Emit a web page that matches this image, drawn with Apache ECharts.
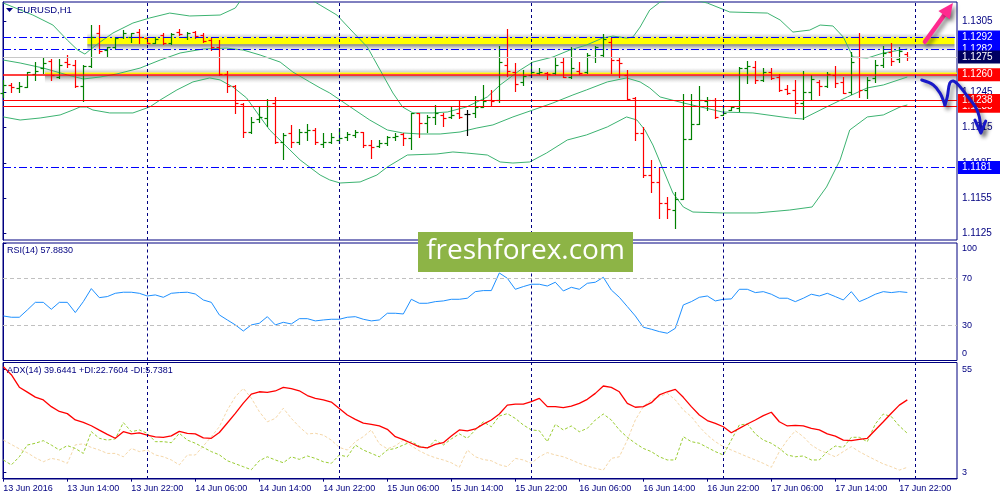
<!DOCTYPE html>
<html><head><meta charset="utf-8">
<script src="https://cdn.jsdelivr.net/npm/echarts@6/dist/echarts.min.js"></script>
<style>html,body{margin:0;padding:0;background:#fff}#c{width:1000px;height:500px}</style>
</head><body><div id="c"></div>
<script>
// ---------------- DATA ----------------
const symbolTitle = 'EURUSD,H1';
const rsiTitle = 'RSI(14) 57.8830';
const adxTitle = 'ADX(14) 39.6441 +DI:22.7604 -DI:5.7381';
const watermarkText = 'freshforex.com';

// hourly bars, 13 Jun 2016 06:00 ... 17 Jun 2016 23:00 (index = bar number)
const barOpen = [1.12441,1.12512,1.12489,1.12498,1.12606,1.12654,1.12719,1.12577,1.12708,1.12682,1.12504,1.12674,1.12957,1.12810,1.12838,1.12918,1.12923,1.12960,1.12909,1.12872,1.12937,1.12872,1.12966,1.12918,1.12966,1.12937,1.12895,1.12838,1.12606,1.12504,1.12351,1.12115,1.12220,1.12229,1.12356,1.12030,1.12101,1.12030,1.12115,1.12129,1.12010,1.12030,1.12044,1.12073,1.12087,1.12115,1.12002,1.11993,1.12016,1.12067,1.12095,1.12058,1.12271,1.12186,1.12237,1.12257,1.12237,1.12271,1.12263,1.12271,1.12328,1.12385,1.12385,1.12682,1.12626,1.12540,1.12597,1.12611,1.12617,1.12611,1.12711,1.12583,1.12634,1.12626,1.12747,1.12767,1.12881,1.12725,1.12597,1.12399,1.12107,1.11747,1.11690,1.11511,1.11449,1.11540,1.12050,1.12180,1.12379,1.12385,1.12257,1.12299,1.12314,1.12654,1.12668,1.12555,1.12626,1.12577,1.12475,1.12470,1.12362,1.12450,1.12540,1.12504,1.12597,1.12540,1.12455,1.12747,1.12470,1.12569,1.12682,1.12796,1.12730,1.12776];
const barHigh = [1.12555,1.12526,1.12540,1.12626,1.12711,1.12739,1.12730,1.12730,1.12767,1.12725,1.12682,1.13022,1.13022,1.12838,1.12918,1.12980,1.12957,1.12986,1.12918,1.12918,1.12952,1.12952,1.12986,1.12966,1.12971,1.12952,1.12909,1.12895,1.12634,1.12512,1.12356,1.12243,1.12328,1.12390,1.12407,1.12101,1.12172,1.12135,1.12180,1.12149,1.12107,1.12101,1.12144,1.12115,1.12129,1.12115,1.12044,1.12044,1.12081,1.12101,1.12101,1.12277,1.12277,1.12257,1.12342,1.12271,1.12328,1.12385,1.12299,1.12419,1.12512,1.12470,1.12844,1.12986,1.12696,1.12640,1.12711,1.12654,1.12626,1.12747,1.12739,1.12838,1.12711,1.12781,1.12844,1.12946,1.12909,1.12739,1.12640,1.12407,1.12158,1.11874,1.11818,1.11562,1.11605,1.12436,1.12433,1.12504,1.12413,1.12399,1.12334,1.12334,1.12668,1.12716,1.12716,1.12654,1.12654,1.12606,1.12512,1.12555,1.12631,1.12597,1.12555,1.12626,1.12674,1.12577,1.12796,1.12952,1.12577,1.12725,1.12844,1.12872,1.12838,1.12796];
const barLow = [1.12413,1.12455,1.12455,1.12492,1.12555,1.12611,1.12555,1.12569,1.12668,1.12492,1.12379,1.12668,1.12787,1.12759,1.12824,1.12909,1.12881,1.12866,1.12866,1.12866,1.12858,1.12858,1.12937,1.12901,1.12909,1.12881,1.12810,1.12597,1.12455,1.12271,1.12073,1.12101,1.12200,1.12163,1.12022,1.11880,1.11988,1.12010,1.12044,1.12007,1.11988,1.12022,1.12022,1.12044,1.12067,1.11988,1.11888,1.11982,1.12002,1.12044,1.12002,1.11965,1.12073,1.12115,1.12180,1.12163,1.12229,1.12229,1.12087,1.12237,1.12328,1.12334,1.12370,1.12589,1.12464,1.12512,1.12583,1.12606,1.12560,1.12606,1.12577,1.12569,1.12606,1.12617,1.12711,1.12747,1.12611,1.12577,1.12390,1.12044,1.11732,1.11605,1.11378,1.11378,1.11293,1.11540,1.12050,1.12180,1.12299,1.12229,1.12257,1.12299,1.12294,1.12526,1.12532,1.12549,1.12560,1.12464,1.12436,1.12277,1.12220,1.12390,1.12427,1.12492,1.12492,1.12441,1.12436,1.12407,1.12399,1.12540,1.12668,1.12682,1.12711,1.12725];
const barClose = [1.12512,1.12492,1.12504,1.12620,1.12631,1.12696,1.12597,1.12682,1.12688,1.12504,1.12674,1.12923,1.12804,1.12832,1.12909,1.12952,1.12952,1.12918,1.12872,1.12901,1.12866,1.12946,1.12946,1.12957,1.12929,1.12889,1.12838,1.12606,1.12504,1.12356,1.12115,1.12200,1.12237,1.12334,1.12030,1.12087,1.12030,1.12115,1.12129,1.12030,1.12030,1.12067,1.12064,1.12095,1.12115,1.12002,1.11988,1.12016,1.12067,1.12078,1.12058,1.12271,1.12186,1.12243,1.12271,1.12229,1.12257,1.12243,1.12263,1.12328,1.12379,1.12379,1.12711,1.12634,1.12521,1.12589,1.12626,1.12620,1.12606,1.12682,1.12583,1.12654,1.12617,1.12767,1.12832,1.12901,1.12725,1.12696,1.12390,1.12107,1.11747,1.11690,1.11511,1.11455,1.11540,1.12050,1.12180,1.12385,1.12385,1.12243,1.12277,1.12322,1.12654,1.12674,1.12555,1.12626,1.12569,1.12470,1.12447,1.12362,1.12450,1.12560,1.12504,1.12606,1.12526,1.12447,1.12711,1.12470,1.12555,1.12682,1.12781,1.12719,1.12804,1.12753];

// Bollinger bands read as [bar, price]
const bbUpper = [[0,1.13209],[3.7,1.13107],[6.2,1.13022],[8,1.12894],[9.3,1.12809],[10.2,1.12775],[10.8,1.12809],[12.1,1.12877],[13.7,1.12954],[16.2,1.13039],[18.3,1.13082],[20.8,1.13124],[23.3,1.13099],[27.1,1.13107],[29,1.13167],[29.6,1.13226],[32.1,1.13294],[36.2,1.13328],[39.6,1.13192],[41.7,1.13107],[43.7,1.12962],[45.5,1.12835],[47.1,1.12639],[48.7,1.12444],[49.9,1.12325],[51.2,1.12274],[53.7,1.12274],[55.5,1.12282],[57.9,1.12325],[60.5,1.12410],[62.1,1.12512],[64.6,1.12639],[66.2,1.12707],[68.7,1.12750],[70.8,1.12809],[72.9,1.12852],[74.9,1.12911],[76.2,1.12928],[77.9,1.12911],[78.7,1.12920],[79.6,1.13005],[80.8,1.13150],[82.1,1.13218],[85,1.13260],[88,1.13209],[90.8,1.13133],[95.5,1.13124],[97.1,1.13065],[98.7,1.12962],[100.8,1.12979],[102.1,1.13022],[103.7,1.13014],[105,1.12920],[106.2,1.12750],[108,1.12741],[110,1.12784],[112.1,1.12809],[113,1.12818]];
const bbMiddle = [[0,1.12724],[2.1,1.12699],[5,1.12656],[8,1.12597],[10,1.12563],[12.1,1.12580],[14.2,1.12606],[17.1,1.12656],[19.6,1.12724],[22.1,1.12784],[25,1.12818],[27.9,1.12826],[30,1.12809],[32.1,1.12767],[34.6,1.12707],[36.2,1.12622],[38.3,1.12538],[39.6,1.12487],[40.8,1.12444],[42.1,1.12384],[45.8,1.12214],[48,1.12129],[49.9,1.12104],[52.1,1.12095],[54.6,1.12095],[57.1,1.12112],[59.2,1.12146],[61.2,1.12172],[63.7,1.12240],[66.2,1.12299],[68.7,1.12359],[71.2,1.12427],[72.9,1.12470],[75.5,1.12538],[77.9,1.12572],[79.6,1.12538],[80.8,1.12487],[82.1,1.12410],[85,1.12359],[89.9,1.12282],[93.7,1.12274],[98.3,1.12231],[99.9,1.12223],[102.9,1.12325],[105.5,1.12410],[108,1.12487],[110,1.12512],[113,1.12580]];
const bbLower = [[0,1.12240],[2.1,1.12214],[4.6,1.12231],[7.1,1.12257],[8.7,1.12299],[9.6,1.12325],[10.4,1.12325],[11.2,1.12299],[13.3,1.12274],[16.2,1.12274],[18.3,1.12325],[19.6,1.12384],[21.7,1.12470],[23.7,1.12538],[25.8,1.12572],[27.1,1.12555],[28.7,1.12495],[30.4,1.12402],[32.1,1.12240],[33.3,1.12129],[37.1,1.11874],[39.6,1.11746],[40.8,1.11704],[42.1,1.11678],[44.6,1.11687],[46.7,1.11746],[48,1.11814],[50.5,1.11916],[54.2,1.11925],[56.2,1.11942],[57.9,1.11933],[60.5,1.11916],[62.1,1.11857],[63.7,1.11848],[65.8,1.11857],[67.9,1.11933],[70.5,1.12044],[72.9,1.12087],[75.5,1.12155],[77.9,1.12240],[79.2,1.12214],[80.2,1.12129],[81.2,1.12001],[82.5,1.11789],[83.7,1.11593],[85,1.11474],[86.2,1.11431],[89.9,1.11423],[94.2,1.11423],[98.3,1.11448],[101.1,1.11474],[102.9,1.11644],[104.6,1.11874],[105.8,1.12129],[108,1.12240],[110,1.12257],[112.1,1.12325],[113,1.12342]];

const rsi14 = [37.9,36.8,36.8,43.0,49.5,49.5,43.6,49.5,49.5,40.8,50.1,61.2,53.5,54.4,57.2,58.1,58.1,57.2,54.9,55.8,53.8,57.2,57.8,58.1,56.6,51.5,49.5,38.8,34.5,30.3,25.1,30.3,31.7,37.3,30.3,32.5,31.1,35.6,35.6,33.7,34.5,35.1,35.1,36.8,37.3,35.1,33.7,34.5,40.2,40.2,39.6,52.1,48.7,48.7,50.1,50.7,52.1,52.1,53.0,58.6,59.5,59.5,74.5,70.0,60.6,62.9,64.9,64.9,63.4,66.6,59.2,62.3,60.6,65.7,66.6,70.8,60.0,53.8,45.9,37.9,28.3,26.6,24.6,23.2,27.4,47.3,50.1,53.8,54.9,50.7,52.1,52.4,60.6,60.6,57.8,58.6,56.4,53.0,53.0,50.1,53.0,56.4,54.9,57.2,54.4,51.5,58.6,50.1,53.0,56.4,58.6,57.8,58.6,57.9];
const adx14 = [56.3,52.3,46.0,43.5,41.0,39.6,36.2,33.8,32.7,29.5,28.3,26.6,24.4,22.3,20.3,23.6,22.5,23.0,21.9,21.0,20.8,21.5,23.8,22.8,22.5,20.5,20.3,23.2,28.0,32.8,38.0,42.5,43.7,43.4,44.1,45.9,45.3,44.2,41.8,40.4,39.6,38.5,35.3,32.0,29.8,27.9,27.3,26.5,24.8,21.1,19.6,17.8,16.0,15.5,17.2,18.1,21.5,24.5,24.0,25.0,27.4,29.5,32.5,37.0,37.5,37.5,38.7,40.4,36.2,36.2,35.7,36.5,37.9,39.9,42.9,46.6,45.9,43.7,37.9,35.9,36.2,38.2,42.1,43.7,44.9,40.9,36.2,32.0,29.2,27.8,26.1,23.1,25.3,27.5,29.5,31.7,33.4,28.6,26.5,26.8,26.5,25.3,24.5,22.5,21.4,19.4,19.1,19.8,20.3,24.5,28.6,32.9,37.0,39.6];
const plusDI = [9.4,6.9,11.0,16.9,17.8,19.1,16.9,14.4,16.6,15.2,12.7,23.6,20.3,19.4,20.0,28.2,23.6,24.5,22.8,18.6,18.6,18.1,22.8,19.4,17.8,15.7,13.6,12.0,9.0,7.5,6.0,4.5,9.0,11.0,9.4,8.0,11.0,9.7,11.4,10.2,8.5,7.7,11.9,11.0,16.9,14.4,12.7,11.0,14.4,15.2,16.9,18.6,16.4,15.2,19.4,16.9,20.0,22.5,20.3,24.5,28.6,26.1,31.5,32.7,30.3,27.0,24.5,24.1,18.6,27.3,24.5,26.5,23.6,25.3,29.5,32.5,29.5,24.5,20.8,17.8,15.2,13.6,11.0,9.4,9.4,21.1,18.6,17.8,15.7,13.6,11.9,19.4,27.0,27.5,22.5,19.4,17.8,15.2,11.9,11.0,11.4,9.4,9.4,13.6,16.4,15.7,20.8,20.8,18.6,27.5,32.5,31.2,26.5,22.8];
const minusDI = [19.4,17.2,15.0,13.0,10.5,8.5,10.2,9.4,7.7,17.0,17.5,15.7,14.4,12.7,12.7,11.0,15.2,13.6,14.4,11.9,11.0,9.4,6.9,11.9,11.9,16.4,21.1,26.1,34.5,41.2,45.4,40.5,33.7,28.6,30.3,35.4,30.3,26.1,22.5,22.8,21.9,19.4,15.7,14.4,18.6,21.1,24.5,17.5,15.0,16.5,19.4,16.5,14.0,12.0,10.5,9.4,8.0,5.7,14.4,11.0,9.6,9.0,7.0,6.0,10.2,9.4,7.7,11.0,13.1,11.9,11.0,9.4,7.7,6.3,5.2,4.3,10.2,11.0,19.4,29.5,36.2,39.6,41.2,42.9,39.6,34.5,31.2,26.1,21.9,18.6,16.1,14.4,12.7,11.0,9.4,7.7,5.7,13.6,19.4,24.1,21.1,16.9,14.4,12.7,11.0,13.6,16.1,13.6,11.4,9.4,7.4,6.0,4.3,5.7];

const xTickBars = [0,8,16,24,32,40,48,56,64,72,80,88,96,104,112];
const xTickLabels = ['13 Jun 2016','13 Jun 14:00','13 Jun 22:00','14 Jun 06:00','14 Jun 14:00','14 Jun 22:00','15 Jun 06:00','15 Jun 14:00','15 Jun 22:00','16 Jun 06:00','16 Jun 14:00','16 Jun 22:00','17 Jun 06:00','17 Jun 14:00','17 Jun 22:00'];
const daySeparators = [18,42,66,90,114];
const priceTicks = [1.1125,1.1155,1.1185,1.1215,1.1245,1.1275,1.1305];
const rsiTicks = [0,30,70,100];
const rsiLevels = [70,30];
const adxTicks = [3,55];
const levelPrices = [1.1292,1.1282,1.1275,1.1260,1.1233,1.1238,1.1181];
const yellowBand = [1.12918,1.12858];        // rectangle object (price top/bottom)
const yellowBandStartBar = 10.5;
const channelLine = [1.12618,1.12606];       // thin yellow rectangle above 1.1260
const channelStartBar = 5.2;

// hand-drawn annotations (data coordinates: bar, price)
const pinkArrowTail = [115.2,1.12880];
const pinkArrowTip = [118.7,1.13209];
const bluePathA = [[114.8,1.12554],[116.25,1.12512],[117.1,1.12441],[117.7,1.12341]];
const bluePathB = [[117.7,1.12341],[118.0,1.12412],[118.3,1.12526],[118.75,1.12546],[119.4,1.12512],[120.4,1.12427],[121.5,1.12327],[122.0,1.12242],[122.2,1.12112]];
const blueHead = [[121.45,1.12214],[122.2,1.12103],[122.8,1.12205]];

// ---------------- CHART ----------------
const FONT = "'Liberation Sans', Arial, sans-serif";
const NAVY = '#000080';
const XMIN = -0.04, XMAX = -0.04 + 954/8;
const PMAX = 1.13218, PMIN = 1.11193;

const ohlc = barOpen.map((o,i)=>[i,o,barHigh[i],barLow[i],barClose[i]]);
const idx = a => a.map((v,i)=>[i,v]);

function sepLines(){
  return daySeparators.map(v=>({xAxis:v, lineStyle:{color:NAVY,type:[3,3],width:1}, label:{show:false}}));
}
const levelStyle = {
  '1.1292':{c:'#0000ff', box:'#0000ff', type:[8,3,2,3], w:1},
  '1.1282':{c:'#0000ff', box:'#0000ff', type:[8,3,2,3], w:1},
  '1.1275':{c:'#c8c8c8', box:'#000060', type:'solid', w:1},
  '1.1260':{c:'#ff0000', box:'#ff0000', type:'solid', w:1.5},
  '1.1238':{c:'#ff0000', box:'#ff0000', type:'solid', w:1},
  '1.1233':{c:'#ff0000', box:'#ff0000', type:'solid', w:1},
  '1.1181':{c:'#0000ff', box:'#0000ff', type:[8,3,2,3], w:1}
};
const levelLines = levelPrices.map(v=>{
  const s = levelStyle[v.toFixed(4)];
  return {yAxis:v, lineStyle:{color:s.c,type:s.type,width:s.w},
    label:{show:true, position:'end', distance:1, formatter:()=>v.toFixed(4),
      color:'#fff', backgroundColor:s.box, padding:[1,10,0,4], fontSize:10, lineHeight:12, fontFamily:FONT}};
});

const grad = (stops)=>({type:'linear',x:0,y:0,x2:0,y2:1,colorStops:stops});

const option = {
  animation:false,
  backgroundColor:'#ffffff',
  textStyle:{fontFamily:FONT},
  title:[
    {text:symbolTitle,left:17,top:5,padding:0,textStyle:{fontSize:9.5,color:NAVY,fontWeight:'normal',fontFamily:FONT}},
    {text:rsiTitle,left:7,top:246,padding:0,textStyle:{fontSize:9,color:NAVY,fontWeight:'normal',fontFamily:FONT}},
    {text:adxTitle,left:7,top:366,padding:0,textStyle:{fontSize:9,color:NAVY,fontWeight:'normal',fontFamily:FONT}}
  ],
  grid:[
    {left:3,top:2,width:954,height:238,show:true,borderColor:NAVY,borderWidth:1},
    {left:3,top:243,width:954,height:117.5,show:true,borderColor:NAVY,borderWidth:1},
    {left:3,top:362.5,width:954,height:116.5,show:true,borderColor:NAVY,borderWidth:1}
  ],
  xAxis:[
    {gridIndex:0,type:'value',min:XMIN,max:XMAX,show:false},
    {gridIndex:1,type:'value',min:XMIN,max:XMAX,show:false},
    {gridIndex:2,type:'value',min:XMIN,max:XMAX,
      axisLine:{lineStyle:{color:NAVY}},
      axisTick:{show:true,length:3,customValues:xTickBars,lineStyle:{color:NAVY}},
      axisLabel:{customValues:xTickBars,align:'left',margin:5,color:NAVY,fontSize:9,fontFamily:FONT,
        formatter:v=>{const i=xTickBars.indexOf(Math.round(v));return i>=0?xTickLabels[i]:'';}},
      splitLine:{show:false}}
  ],
  yAxis:[
    {gridIndex:0,type:'value',position:'right',min:PMIN,max:PMAX,
      axisLine:{show:true,lineStyle:{color:NAVY}},
      axisTick:{show:true,length:3,customValues:priceTicks,lineStyle:{color:NAVY}},
      axisLabel:{customValues:priceTicks,margin:5,color:NAVY,fontSize:10,fontFamily:FONT,formatter:v=>v.toFixed(4)},
      splitLine:{show:false}},
    {gridIndex:1,type:'value',position:'right',min:0,max:100,
      axisLine:{show:true,lineStyle:{color:NAVY}},
      axisTick:{show:true,length:3,customValues:rsiTicks,lineStyle:{color:NAVY}},
      axisLabel:{customValues:rsiTicks,margin:5,color:NAVY,fontSize:9,fontFamily:FONT,
        formatter:v=>v===100?'{top|100}':(v===0?'{bot|0}':String(v)),
        rich:{top:{padding:[12,0,0,0],color:NAVY,fontSize:9,fontFamily:FONT},bot:{padding:[0,0,14,0],color:NAVY,fontSize:9,fontFamily:FONT}}},
      splitLine:{show:false}},
    {gridIndex:2,type:'value',position:'right',min:-0.18,max:58.42,
      axisLine:{show:true,lineStyle:{color:NAVY}},
      axisTick:{show:true,length:3,customValues:adxTicks,lineStyle:{color:NAVY}},
      axisLabel:{customValues:adxTicks,margin:5,color:NAVY,fontSize:9,fontFamily:FONT},
      splitLine:{show:false}}
  ],
  series:[
    {name:'BB middle',type:'line',xAxisIndex:0,yAxisIndex:0,data:bbMiddle,symbol:'none',
      lineStyle:{color:'#3cb371',width:1},z:2,
      markArea:{silent:true,data:[
        [{xAxis:yellowBandStartBar,yAxis:yellowBand[0]+0.00035,itemStyle:{color:grad([{offset:0,color:'rgba(160,160,160,0)'},{offset:1,color:'rgba(150,150,150,0.45)'}])}},{xAxis:118.9,yAxis:yellowBand[0]}],
        [{xAxis:yellowBandStartBar,yAxis:yellowBand[0],itemStyle:{color:'#ffff00'}},{xAxis:118.9,yAxis:yellowBand[1]}],
        [{xAxis:yellowBandStartBar,yAxis:yellowBand[1],itemStyle:{color:grad([{offset:0,color:'rgba(90,90,90,0.8)'},{offset:1,color:'rgba(200,200,200,0)'}])}},{xAxis:118.9,yAxis:yellowBand[1]-0.0006}],
        [{xAxis:channelStartBar,yAxis:channelLine[0]+0.0004,itemStyle:{color:grad([{offset:0,color:'rgba(180,180,180,0)'},{offset:1,color:'rgba(150,150,150,0.5)'}])}},{xAxis:XMAX,yAxis:channelLine[0]}],
        [{xAxis:channelStartBar,yAxis:channelLine[0],itemStyle:{color:'#ffee00'}},{xAxis:XMAX,yAxis:channelLine[1]}],
        [{xAxis:channelStartBar,yAxis:1.12592,itemStyle:{color:grad([{offset:0,color:'rgba(100,100,100,0.7)'},{offset:1,color:'rgba(210,210,210,0)'}])}},{xAxis:XMAX,yAxis:1.12525}]
      ]},
      markLine:{silent:true,precision:6,symbol:['none','none'],data:levelLines.concat(sepLines())}},
    {name:'BB upper',type:'line',xAxisIndex:0,yAxisIndex:0,data:bbUpper,symbol:'none',lineStyle:{color:'#3cb371',width:1},z:2},
    {name:'BB lower',type:'line',xAxisIndex:0,yAxisIndex:0,data:bbLower,symbol:'none',lineStyle:{color:'#3cb371',width:1},z:2},
    {name:'EURUSD',type:'custom',xAxisIndex:0,yAxisIndex:0,data:ohlc,z:3,
      encode:{x:0,y:[1,2,3,4]},
      renderItem:function(params,api){
        const k=api.value(0),o=api.value(1),h=api.value(2),l=api.value(3),c=api.value(4);
        const pH=api.coord([k,h]),pL=api.coord([k,l]),pO=api.coord([k,o]),pC=api.coord([k,c]);
        const col = c>o?'#008000':(c<o?'#ff0000':'#000000');
        const x=Math.round(pH[0])+0.5;
        const yo=Math.round(pO[1])+0.5, yc=Math.round(pC[1])+0.5;
        const st={stroke:col,lineWidth:1.2};
        return {type:'group',children:[
          {type:'line',shape:{x1:x,y1:Math.round(pH[1]),x2:x,y2:Math.round(pL[1])+1},style:st},
          {type:'line',shape:{x1:x-3,y1:yo,x2:x,y2:yo},style:st},
          {type:'line',shape:{x1:x,y1:yc,x2:x+3,y2:yc},style:st}
        ]};
      }},
    {name:'RSI',type:'line',xAxisIndex:1,yAxisIndex:1,data:idx(rsi14),symbol:'none',lineStyle:{color:'#1e90ff',width:1},
      markLine:{silent:true,precision:2,symbol:['none','none'],data:rsiLevels.map(v=>({yAxis:v,lineStyle:{color:'#c0c0c0',type:[4,3],width:1},label:{show:false}})).concat(sepLines())}},
    {name:'-DI',type:'line',xAxisIndex:2,yAxisIndex:2,data:idx(minusDI),symbol:'none',lineStyle:{color:'#f5d7a8',width:1,type:[3,2]}},
    {name:'+DI',type:'line',xAxisIndex:2,yAxisIndex:2,data:idx(plusDI),symbol:'none',lineStyle:{color:'#9acd32',width:1,type:[3,2]}},
    {name:'ADX',type:'line',xAxisIndex:2,yAxisIndex:2,data:idx(adx14),symbol:'none',lineStyle:{color:'#ff0000',width:1.3},
      markLine:{silent:true,symbol:['none','none'],data:sepLines()}}
  ]
};

const chart = echarts.init(document.getElementById('c'), null, {renderer:'canvas'});
chart.setOption(option);

// annotations placed through the price/time scales
const P = pt => chart.convertToPixel({gridIndex:0}, pt);
const tail=P(pinkArrowTail), tip=P(pinkArrowTip);
const dx=tip[0]-tail[0], dy=tip[1]-tail[1], len=Math.hypot(dx,dy), ux=dx/len, uy=dy/len, nx=-uy, ny=ux;
const hl=15, hw=7, bx=tip[0]-ux*hl, by=tip[1]-uy*hl;
const shadow={shadowBlur:4,shadowColor:'rgba(0,0,0,0.45)',shadowOffsetX:3,shadowOffsetY:3};
chart.setOption({graphic:[
  {type:'line',z:100,shape:{x1:tail[0],y1:tail[1],x2:bx+ux*3,y2:by+uy*3},style:Object.assign({stroke:'#ff2a8f',lineWidth:4.5,lineCap:'round'},shadow)},
  {type:'polygon',z:100,shape:{points:[[tip[0],tip[1]],[bx+nx*hw,by+ny*hw],[bx-nx*hw,by-ny*hw]]},style:Object.assign({fill:'#ff2a8f'},shadow)},
  {type:'polyline',z:100,shape:{points:bluePathA.map(P),smooth:0.35},style:Object.assign({stroke:'#1818c8',lineWidth:3,fill:null,lineCap:'round',lineJoin:'round'},shadow)},
  {type:'polyline',z:100,shape:{points:bluePathB.map(P),smooth:0.35},style:Object.assign({stroke:'#1818c8',lineWidth:3,fill:null,lineCap:'round',lineJoin:'round'},shadow)},
  {type:'polyline',z:100,shape:{points:blueHead.map(P)},style:Object.assign({stroke:'#1818c8',lineWidth:3,fill:null,lineCap:'round',lineJoin:'round'},shadow)},
  {type:'polygon',z:100,shape:{points:[[6,8],[13,8],[9.5,12]]},style:{fill:NAVY}},
  {type:'rect',z:200,shape:{x:418,y:232,width:215,height:40},style:{fill:'#8db446'}},
  {type:'text',z:201,x:525.5,y:251.5,style:{text:watermarkText,fill:'#ffffff',fontSize:28,fontFamily:"'Open Sans', sans-serif",align:'center',verticalAlign:'middle'}}
]});
</script>
</body></html>
